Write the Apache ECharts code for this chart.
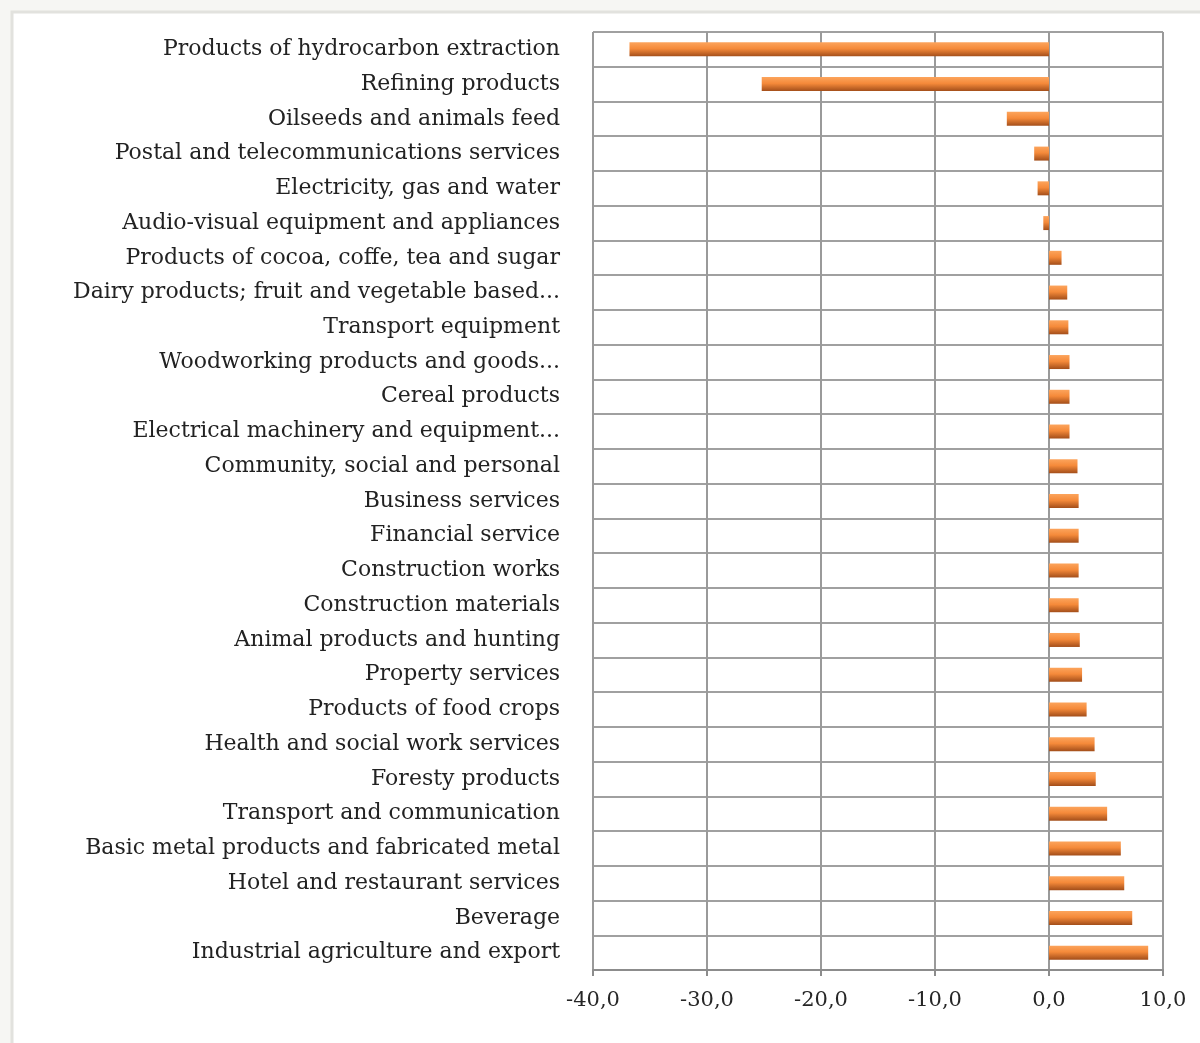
<!DOCTYPE html>
<html>
<head>
<meta charset="utf-8">
<script src="https://cdn.jsdelivr.net/npm/echarts@6/dist/echarts.min.js"></script>
<style>
  html, body { margin: 0; padding: 0; background: #f6f6f3; }
  #chart { width: 1200px; height: 1043px; }
</style>
</head>
<body>
<div id="chart"></div>
<script>
// categories, top to bottom as in the picture
var categories = [
	"Products of hydrocarbon extraction",
	"Refining products",
	"Oilseeds and animals feed",
	"Postal and telecommunications services",
	"Electricity, gas and water",
	"Audio-visual equipment and appliances",
	"Products of cocoa, coffe, tea and sugar",
	"Dairy products; fruit and vegetable based...",
	"Transport equipment",
	"Woodworking products and goods...",
	"Cereal products",
	"Electrical machinery and equipment...",
	"Community, social and personal",
	"Business services",
	"Financial service",
	"Construction works",
	"Construction materials",
	"Animal products and hunting",
	"Property services",
	"Products of food crops",
	"Health and social work services",
	"Foresty products",
	"Transport and communication",
	"Basic metal products and fabricated metal",
	"Hotel and restaurant services",
	"Beverage",
	"Industrial agriculture and export"
];
var values = [
	-36.8, -25.2, -3.7, -1.3, -1.0, -0.5,
	1.1, 1.6, 1.7, 1.8, 1.8, 1.8,
	2.5, 2.6, 2.6, 2.6, 2.6, 2.7, 2.9, 3.3,
	4.0, 4.1, 5.1, 6.3, 6.6, 7.3, 8.7
];
var xTicks = { min: -40, max: 10, step: 10 };

var chart = echarts.init(document.getElementById("chart"));
chart.setOption({
	backgroundColor: "#f6f6f3",
	animation: false,
	graphic: [
		{
			type: "rect",
			shape: { x: 12, y: 12, width: 1200, height: 1040 },
			style: { fill: "#ffffff", stroke: "#e2e2de", lineWidth: 3 },
			z: -10
		}
	],
	grid: {
		left: 593,
		right: 37,
		top: 32,
		bottom: 73
	},
	xAxis: {
		type: "value",
		min: xTicks.min,
		max: xTicks.max,
		interval: xTicks.step,
		axisLine: { show: true, lineStyle: { color: "#8c8c8c", width: 2 } },
		axisTick: { show: true, length: 6, lineStyle: { color: "#8c8c8c", width: 2 } },
		axisLabel: {
			margin: 20,
			color: "#262626",
			fontFamily: "DejaVu Serif",
			fontSize: 21,
			formatter: function (v) { return v.toFixed(1).replace(".", ","); }
		},
		splitLine: { show: true, lineStyle: { color: "#9a9a9a", width: 2 } }
	},
	yAxis: {
		type: "category",
		inverse: true,
		data: categories,
		axisLine: { show: false },
		axisTick: { show: false },
		axisLabel: {
			margin: 33,
			color: "#222",
			fontFamily: "DejaVu Serif",
			fontSize: 22
		},
		splitLine: { show: true, lineStyle: { color: "#a0a0a0", width: 2 } }
	},
	series: [
		{
			type: "bar",
			data: values,
			barWidth: 14,
			itemStyle: {
				color: new echarts.graphic.LinearGradient(0, 0, 0, 1, [
					{ offset: 0, color: "#fca45c" },
					{ offset: 0.45, color: "#f58a3a" },
					{ offset: 1, color: "#a34e1a" }
				])
			}
		}
	]
});
</script>
</body>
</html>
